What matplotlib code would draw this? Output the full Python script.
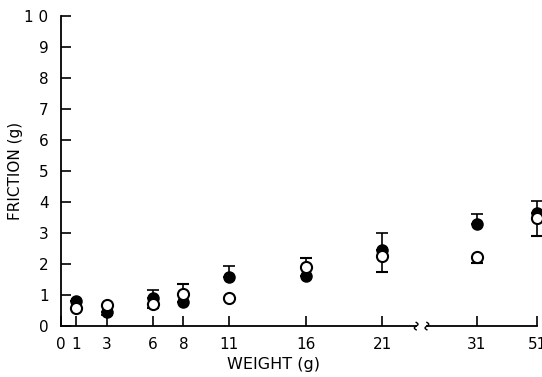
import matplotlib
matplotlib.use('Agg')
import matplotlib.pyplot as plt
import numpy as np

# weights (g) and where they sit on the broken axis
weights = [1, 3, 6, 8, 11, 16, 21, 31, 51]
axis_pos = [1, 3, 6, 8, 11, 16, 21, 27.15, 31.1]
tick_pos = [0] + axis_pos
tick_labels = ['0', '1', '3', '6', '8', '11', '16', '21', '31', '51']

# friction (g), filled circles
filled = [0.82, 0.45, 0.90, 0.77, 1.58, 1.60, 2.45, 3.29, 3.64]
filled_hi = [0, 0, 0.26, 0, 0.36, 0, 0.55, 0.31, 0.39]
filled_lo = [0, 0.10, 0, 0, 0, 0, 0, 0, 0]

# friction (g), open circles
opened = [0.58, 0.68, 0.70, 1.03, 0.90, 1.90, 2.26, 2.22, 3.48]
open_hi = [0, 0, 0, 0.32, 0, 0.30, 0, 0, 0]
open_lo = [0, 0, 0.12, 0, 0, 0, 0.52, 0.19, 0.58]

plt.rcParams['font.family'] = 'DejaVu Sans'

fig = plt.figure(figsize=(5.42, 3.77), dpi=100)
ax = fig.add_axes([0.1125, 0.135, 0.8785, 0.823])

ax.errorbar(axis_pos, filled, yerr=[filled_lo, filled_hi], fmt='o', color='black',
            markersize=8, capsize=4, elinewidth=1.2, capthick=1.2, clip_on=False, zorder=3)
ax.errorbar(axis_pos, opened, yerr=[open_lo, open_hi], fmt='o', color='black',
            markerfacecolor='white', markeredgewidth=1.5, markersize=8, capsize=4,
            elinewidth=1.2, capthick=1.2, clip_on=False, zorder=4)

ax.set_xlim(0, 31.1)
ax.set_ylim(0, 10)
ax.set_yticks(range(0, 11))
ax.set_yticklabels([str(i) for i in range(0, 10)] + ['1 0'])
ax.set_xticks(tick_pos)
ax.set_xticklabels(tick_labels)

ax.spines['top'].set_visible(False)
ax.spines['right'].set_visible(False)
ax.spines['bottom'].set_visible(False)
ax.spines['left'].set_linewidth(1.3)

# broken x axis line
brk_a, brk_b = 23.2, 23.9
ax.plot([0, brk_a], [0, 0], color='black', lw=1.3, clip_on=False)
ax.plot([brk_b, 31.1], [0, 0], color='black', lw=1.3, clip_on=False)
for xb in (brk_a, brk_b):
    t = np.linspace(-1, 1, 20)
    ax.plot(xb + 0.12 * np.sin(t * np.pi), t * 0.12, color='black', lw=1, clip_on=False)

ax.tick_params(axis='both', direction='in', length=7, width=1.2, labelsize=11)
ax.tick_params(axis='y', pad=9)
ax.tick_params(axis='x', pad=8)

ax.set_ylabel('FRICTION (g)', fontsize=11)
ax.set_xlabel('WEIGHT (g)', fontsize=11.5)
ax.yaxis.set_label_coords(-0.08, 0.5)
ax.xaxis.set_label_coords(0.447, -0.1)

fig.savefig('out.png', dpi=100)
